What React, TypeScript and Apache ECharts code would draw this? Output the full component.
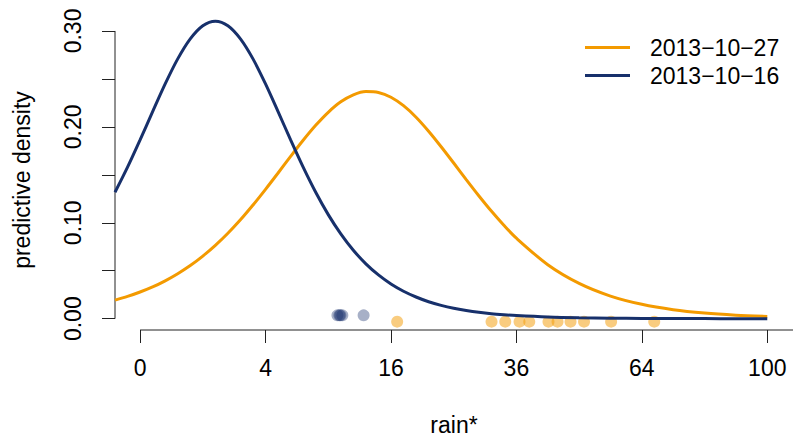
import React, { useEffect, useRef } from "react";
import * as echarts from "echarts";

// x positions of the density curves, in sqrt(rain) units
const sqrtRain = [
  -0.4, -0.2, 0, 0.2, 0.4, 0.6, 0.8, 1.0, 1.2, 1.4, 1.6, 1.8, 2.0, 2.2, 2.4, 2.6, 2.8,
  3.0, 3.2, 3.4, 3.6, 3.8, 4.0, 4.2, 4.4, 4.6, 4.8, 5.0, 5.2, 5.4, 5.6, 5.8, 6.0,
  6.5, 7.0, 7.5, 8.0, 8.5, 9.0, 9.5, 10.0,
];
const densityOct16 = [
  0.1318, 0.158, 0.1864, 0.2159, 0.2448, 0.2709, 0.2918, 0.3055, 0.3102, 0.3055, 0.2918,
  0.2709, 0.2448, 0.2159, 0.1864, 0.158, 0.1318, 0.1085, 0.0884, 0.0713, 0.0572, 0.0456,
  0.0362, 0.0286, 0.0226, 0.0177, 0.0139, 0.0109, 0.0086, 0.0067, 0.0052, 0.0041, 0.0032,
  0.0017, 0.0009, 0.0005, 0.0003, 0.00014, 0.00008, 0.00004, 0.00002,
];
const densityOct27 = [
  0.0194, 0.0232, 0.0278, 0.0331, 0.0395, 0.0469, 0.0554, 0.0653, 0.0765, 0.0891, 0.1031,
  0.1185, 0.1349, 0.1519, 0.1692, 0.186, 0.2016, 0.2152, 0.2261, 0.2334, 0.2368, 0.2359,
  0.2309, 0.2221, 0.2101, 0.1955, 0.1793, 0.1623, 0.145, 0.1282, 0.1122, 0.0974, 0.0839,
  0.0563, 0.0368, 0.0236, 0.015, 0.0094, 0.0059, 0.0037, 0.0023,
];
// observed rain amounts (rug points)
const obsOct16 = [9.9, 10.1, 10.2, 10.4, 12.7];
const obsOct27 = [16.8, 31.4, 33.9, 36.6, 38.5, 42.4, 44.3, 47.1, 50.1, 56.4, 67.2];
const rugOct16 = 0.0035;
const rugOct27 = -0.0031;

const xTickRain = [0, 4, 16, 36, 64, 100];
const yTicks = [0, 0.05, 0.1, 0.15, 0.2, 0.25, 0.3];
const yLabels = [0, 0.1, 0.2, 0.3];
const seriesNames = ["2013\u221210\u221227", "2013\u221210\u221216"];

const ORANGE = "#F39A00";
const NAVY = "#17306B";
const FONT = "Liberation Sans";
const FS = 23;

export default function App() {
  const ref = useRef<HTMLDivElement>(null);
  useEffect(() => {
    if (!ref.current) return;
    const chart = echarts.init(ref.current, undefined, { renderer: "svg" });
    const xMin = -0.4;
    const xMax = 10.41;
    const yMin = -0.0118;
    const yMax = 0.301;
    const xTicks = xTickRain.map((v) => Math.sqrt(v));
    chart.setOption({
      animation: false,
      backgroundColor: "#fff",
      textStyle: { fontFamily: FONT },
      grid: {
        left: 115,
        right: 0,
        top: 30,
        bottom: 109,
        containLabel: false,
        outerBoundsMode: "none",
      },
      legend: {
        orient: "vertical",
        left: 580,
        top: 31,
        itemWidth: 45,
        itemHeight: 3,
        itemGap: 5,
        icon: "rect",
        data: seriesNames,
        textStyle: { fontSize: FS, color: "#000", fontFamily: FONT, padding: [0, 0, 0, 15] },
      },
      xAxis: {
        type: "value",
        min: xMin,
        max: xMax,
        splitLine: { show: false },
        axisLine: { show: false, onZero: false },
        axisTick: {
          show: true,
          length: 13,
          customValues: xTicks,
          lineStyle: { color: "#222", width: 1 },
        },
        axisLabel: {
          customValues: xTicks,
          margin: 26,
          fontSize: FS,
          color: "#000",
          fontFamily: FONT,
          formatter: (v: number) => String(Math.round(v * v)),
        },
        name: "rain*",
        nameLocation: "middle",
        nameGap: 86,
        nameTextStyle: { fontSize: FS, lineHeight: 18, color: "#000", fontFamily: FONT },
      },
      yAxis: {
        type: "value",
        min: yMin,
        max: yMax,
        splitLine: { show: false },
        axisLine: { show: false, onZero: false },
        axisTick: {
          show: true,
          length: 13,
          customValues: yTicks,
          lineStyle: { color: "#222", width: 1 },
        },
        axisLabel: {
          customValues: yLabels,
          rotate: 90,
          margin: 31,
          fontSize: FS,
          color: "#000",
          fontFamily: FONT,
          formatter: (v: number) => v.toFixed(2),
        },
        name: "predictive density",
        nameLocation: "middle",
        nameRotate: 90,
        nameGap: 82,
        nameTextStyle: { fontSize: FS, color: "#000", fontFamily: FONT },
      },
      series: [
        {
          name: "yaxisline",
          type: "line",
          data: [
            [xMin, yTicks[0]],
            [xMin, yTicks[yTicks.length - 1]],
          ],
          symbol: "none",
          clip: false,
          silent: true,
          lineStyle: { color: "#222", width: 1 },
          z: 1,
        },
        {
          name: "xaxisline",
          type: "line",
          data: [
            [xTicks[0], yMin],
            [xMax, yMin],
          ],
          symbol: "none",
          clip: false,
          silent: true,
          lineStyle: { color: "#222", width: 1 },
          z: 1,
        },
        {
          name: "rug27",
          type: "scatter",
          data: obsOct27.map((r) => [Math.sqrt(r), rugOct27]),
          symbolSize: 12,
          itemStyle: { color: ORANGE, opacity: 0.5 },
          z: 2,
        },
        {
          name: "rug16",
          type: "scatter",
          data: obsOct16.map((r) => [Math.sqrt(r), rugOct16]),
          symbolSize: 12,
          itemStyle: { color: NAVY, opacity: 0.38 },
          z: 2,
        },
        {
          name: seriesNames[0],
          type: "line",
          data: sqrtRain.map((x, i) => [x, densityOct27[i]]),
          smooth: 0.3,
          symbol: "none",
          clip: false,
          color: ORANGE,
          lineStyle: { color: ORANGE, width: 3 },
          itemStyle: { color: ORANGE },
          z: 3,
        },
        {
          name: seriesNames[1],
          type: "line",
          data: sqrtRain.map((x, i) => [x, densityOct16[i]]),
          smooth: 0.3,
          symbol: "none",
          clip: false,
          color: NAVY,
          lineStyle: { color: NAVY, width: 3 },
          itemStyle: { color: NAVY },
          z: 4,
        },
      ],
    });
    return () => chart.dispose();
  }, []);
  return (
    <div
      ref={ref}
      style={{ position: "fixed", left: 0, top: 0, width: 793, height: 439 }}
    />
  );
}
